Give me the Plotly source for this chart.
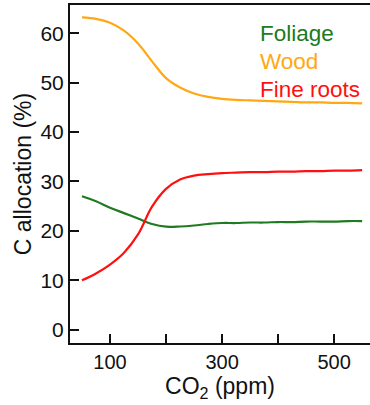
import plotly.graph_objects as go

co2 = [50, 75, 100, 125, 150, 175, 200, 225, 250, 275, 300, 325, 350, 375, 400, 425, 450, 475, 500, 525, 550]
foliage = [27.0, 26.0, 24.7, 23.6, 22.5, 21.4, 20.85, 20.9, 21.1, 21.4, 21.6, 21.6, 21.7, 21.7, 21.8, 21.8, 21.9, 21.9, 21.9, 22.0, 22.0]
wood = [63.2, 62.9, 62.1, 60.5, 57.9, 54.3, 50.9, 49.0, 47.8, 47.1, 46.7, 46.5, 46.4, 46.3, 46.2, 46.1, 46.0, 46.0, 45.9, 45.9, 45.8]
fine_roots = [10.0, 11.4, 13.2, 15.6, 19.3, 24.9, 28.5, 30.4, 31.2, 31.5, 31.7, 31.8, 31.9, 31.9, 32.0, 32.0, 32.1, 32.1, 32.2, 32.2, 32.3]

x_major = [100, 300, 500]
x_minor = [200, 400]
y_ticks = [0, 10, 20, 30, 40, 50, 60]

names = ["Foliage", "Wood", "Fine roots"]
colors = ["#207a20", "#ffa812", "#ff1010"]
series = [foliage, wood, fine_roots]

FONT = "Liberation Sans, Arial, Helvetica, sans-serif"

fig = go.Figure()
for name, vals, col in zip(names, series, colors):
    fig.add_trace(go.Scatter(x=co2, y=vals, mode="lines", name=name,
                             line=dict(color=col, width=2.2, shape="spline"),
                             showlegend=False))

legend_y = [0.917, 0.833, 0.750]
for name, col, yy in zip(names, colors, legend_y):
    fig.add_annotation(text=name, x=0.627, y=yy, xref="paper", yref="paper",
                       xanchor="left", yanchor="middle", showarrow=False,
                       font=dict(family=FONT, size=22.5, color=col))

fig.update_layout(
    width=370, height=405,
    margin=dict(l=70, r=0, t=5, b=62),
    plot_bgcolor="white", paper_bgcolor="white",
    font=dict(family=FONT, size=20, color="#111"),
    xaxis=dict(range=[28.6, 564], tickvals=x_major,
               ticks="inside", ticklen=9, tickwidth=2, tickcolor="#111",
               tickfont=dict(size=20),
               minor=dict(tickvals=x_minor, ticks="inside", ticklen=9,
                          tickwidth=2, tickcolor="#111", showgrid=False),
               showline=True, linewidth=2, linecolor="#111", mirror=True,
               showgrid=False, zeroline=False,
               title=dict(text="CO<sub>2</sub> (ppm)", standoff=4,
                          font=dict(size=23))),
    yaxis=dict(range=[-2.67, 65.7], tickvals=y_ticks,
               ticks="inside", ticklen=9, tickwidth=2, tickcolor="#111",
               tickfont=dict(size=21),
               showline=True, linewidth=2, linecolor="#111",
               showgrid=False, zeroline=False,
               title=dict(text="C allocation (%)", standoff=2,
                          font=dict(size=23))),
)

fig.write_html("out.html")
